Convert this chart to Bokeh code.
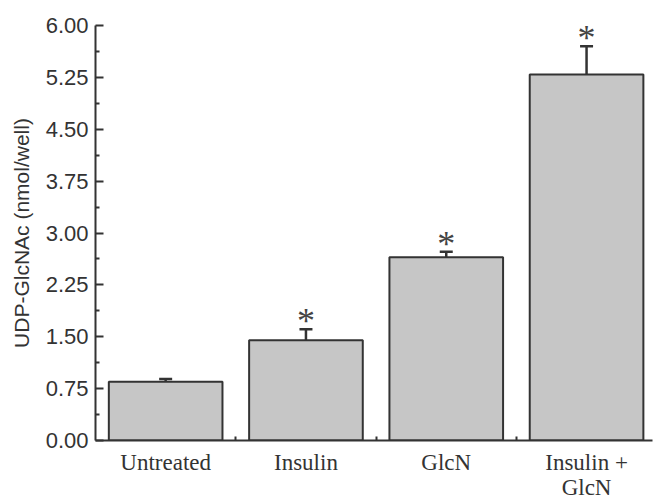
from bokeh.plotting import figure
from bokeh.models import Range1d, FixedTicker, Whisker, ColumnDataSource, TeeHead, NumeralTickFormatter
from bokeh.core.properties import value
from bokeh.embed import file_html
from bokeh.resources import INLINE

categories = ["Untreated", "Insulin", "GlcN", "Insulin +\nGlcN"]
means = [0.85, 1.45, 2.65, 5.29]
upper_err = [0.89, 1.61, 2.73, 5.70]
significant = [False, True, True, True]
y_ticks = [0.0, 0.75, 1.5, 2.25, 3.0, 3.75, 4.5, 5.25, 6.0]
y_minor = [0.375, 1.125, 1.875, 2.625, 3.375, 4.125, 4.875, 5.625]

xs = list(range(len(categories)))
src = ColumnDataSource(dict(x=xs, top=means, up=upper_err))
star_src = ColumnDataSource(dict(
    x=[x for x, s in zip(xs, significant) if s],
    y=[u for u, s in zip(upper_err, significant) if s],
    t=["*" for s in significant if s],
))

p = figure(width=657, height=502, output_backend="svg", toolbar_location=None,
           x_range=Range1d(-0.5, 3.47), y_range=Range1d(0, 6.0),
           min_border_left=95, min_border_right=5, min_border_top=25, min_border_bottom=50)
p.outline_line_color = None
p.grid.visible = False
p.background_fill_color = "white"
p.border_fill_color = "white"

p.vbar(x="x", top="top", bottom=0, width=0.81, source=src,
       fill_color="#c6c6c6", line_color="#333333", line_width=2)

wh = Whisker(base="x", lower="top", upper="up", source=src,
             line_color="#333333", line_width=2.5,
             upper_head=TeeHead(size=13, line_color="#333333", line_width=2.5),
             lower_head=None)
p.add_layout(wh)

p.text(x="x", y="y", text="t", source=star_src, text_align="center",
       text_baseline="middle", y_offset=-8, text_font=value("Liberation Serif"),
       text_font_size="36px", text_color="#444444")

# y axis
ya = p.yaxis[0]
ya.ticker = FixedTicker(ticks=y_ticks, minor_ticks=y_minor)
ya.formatter = NumeralTickFormatter(format="0.00")
ya.major_tick_in = 8
ya.major_tick_out = 0
ya.minor_tick_in = 4
ya.minor_tick_out = 0
ya.axis_line_width = 2
ya.major_tick_line_width = 2
ya.minor_tick_line_width = 2
ya.axis_line_color = "#333333"
ya.major_tick_line_color = "#333333"
ya.minor_tick_line_color = "#333333"
ya.major_label_text_font = "Liberation Sans"
ya.major_label_text_font_size = "22px"
ya.major_label_text_color = "#333333"
ya.major_label_standoff = 7
ya.axis_label = "UDP-GlcNAc (nmol/well)"
ya.axis_label_text_font = "Liberation Sans"
ya.axis_label_text_font_size = "21px"
ya.axis_label_text_font_style = "normal"
ya.axis_label_text_color = "#333333"
ya.axis_label_standoff = 10

# x axis
xa = p.xaxis[0]
xa.ticker = FixedTicker(ticks=xs, minor_ticks=[0.5, 1.5, 2.5])
xa.major_label_overrides = {i: c for i, c in zip(xs, categories)}
xa.major_tick_in = 0
xa.major_tick_out = 0
xa.minor_tick_in = 4
xa.minor_tick_out = 0
xa.axis_line_width = 2
xa.minor_tick_line_width = 2
xa.axis_line_color = "#333333"
xa.minor_tick_line_color = "#333333"
xa.major_label_text_font = "Liberation Serif"
xa.major_label_text_font_size = "23px"
xa.major_label_text_line_height = 1.0
xa.major_label_text_color = "#333333"
xa.major_label_standoff = 9

open("out.html", "w").write(file_html(p, INLINE))
